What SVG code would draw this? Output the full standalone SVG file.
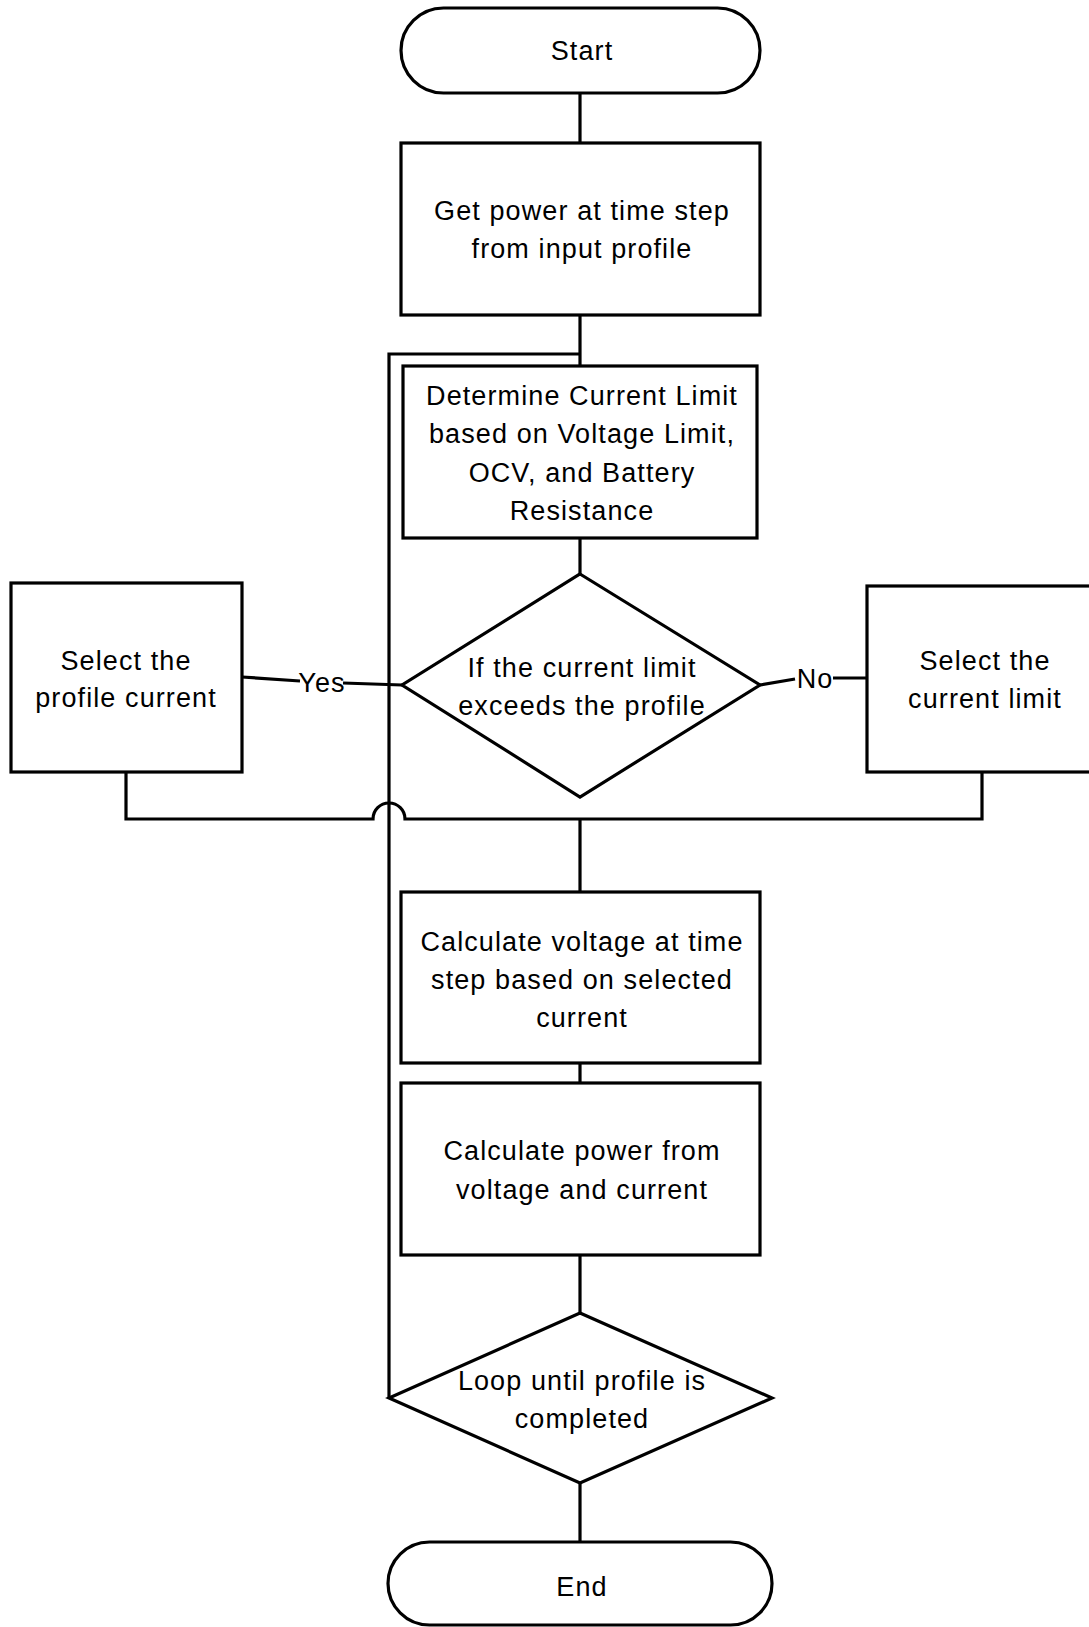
<svg xmlns="http://www.w3.org/2000/svg" width="1089" height="1627" viewBox="0 0 1089 1627">
<style>
.shape{fill:#fff;stroke:#000;stroke-width:3.2;stroke-linejoin:miter}
.conn{fill:none;stroke:#000;stroke-width:3.2}
text{font-family:"Liberation Sans",Arial,sans-serif;font-size:27px;letter-spacing:1.1px;fill:#000;text-anchor:middle}
</style>
<rect width="1089" height="1627" fill="#fff"/>
<g id="connectors">
<path class="conn" d="M580 93V143"/>
<path class="conn" d="M580 315V366"/>
<path class="conn" d="M580 354H389V1398"/>
<path class="conn" d="M580 538V574"/>
<path class="conn" d="M402 685L343 683"/>
<path class="conn" d="M300 681L242 677"/>
<path class="conn" d="M760 685L795 679"/>
<path class="conn" d="M833 678H867"/>
<path class="conn" d="M126 772V819H373A16 16 0 0 1 405 819H982V772"/>
<path class="conn" d="M580 819V892"/>
<path class="conn" d="M580 1063V1083"/>
<path class="conn" d="M580 1255V1313"/>
<path class="conn" d="M580 1483V1542"/>
<text x="322" y="692">Yes</text>
<text x="815" y="688">No</text>
</g>
<g id="start">
<rect class="shape" x="401" y="8" width="359" height="85" rx="42.5"/>
<text x="582" y="60">Start</text>
</g>
<g id="get-power">
<rect class="shape" x="401" y="143" width="359" height="172"/>
<text x="582" y="220">Get power at time step</text>
<text x="582" y="258">from input profile</text>
</g>
<g id="current-limit">
<rect class="shape" x="403" y="366" width="354" height="172"/>
<text x="582" y="405">Determine Current Limit</text>
<text x="582" y="443">based on Voltage Limit,</text>
<text x="582" y="482">OCV, and Battery</text>
<text x="582" y="520">Resistance</text>
</g>
<g id="decision-exceeds">
<polygon class="shape" points="580,574 760,685 580,797 402,685"/>
<text x="582" y="677">If the current limit</text>
<text x="582" y="715">exceeds the profile</text>
</g>
<g id="select-profile">
<rect class="shape" x="11" y="583" width="231" height="189"/>
<text x="126" y="670">Select the</text>
<text x="126" y="707">profile current</text>
</g>
<g id="select-limit">
<rect class="shape" x="867" y="586" width="234" height="186"/>
<text x="985" y="670">Select the</text>
<text x="985" y="708">current limit</text>
</g>
<g id="calc-voltage">
<rect class="shape" x="401" y="892" width="359" height="171"/>
<text x="582" y="951">Calculate voltage at time</text>
<text x="582" y="989">step based on selected</text>
<text x="582" y="1027">current</text>
</g>
<g id="calc-power">
<rect class="shape" x="401" y="1083" width="359" height="172"/>
<text x="582" y="1160">Calculate power from</text>
<text x="582" y="1199">voltage and current</text>
</g>
<g id="decision-loop">
<polygon class="shape" points="580,1313 772,1398 580,1483 389,1398"/>
<text x="582" y="1390">Loop until profile is</text>
<text x="582" y="1428">completed</text>
</g>
<g id="end">
<rect class="shape" x="388" y="1542" width="384" height="83" rx="41.5"/>
<text x="582" y="1596">End</text>
</g>
</svg>
